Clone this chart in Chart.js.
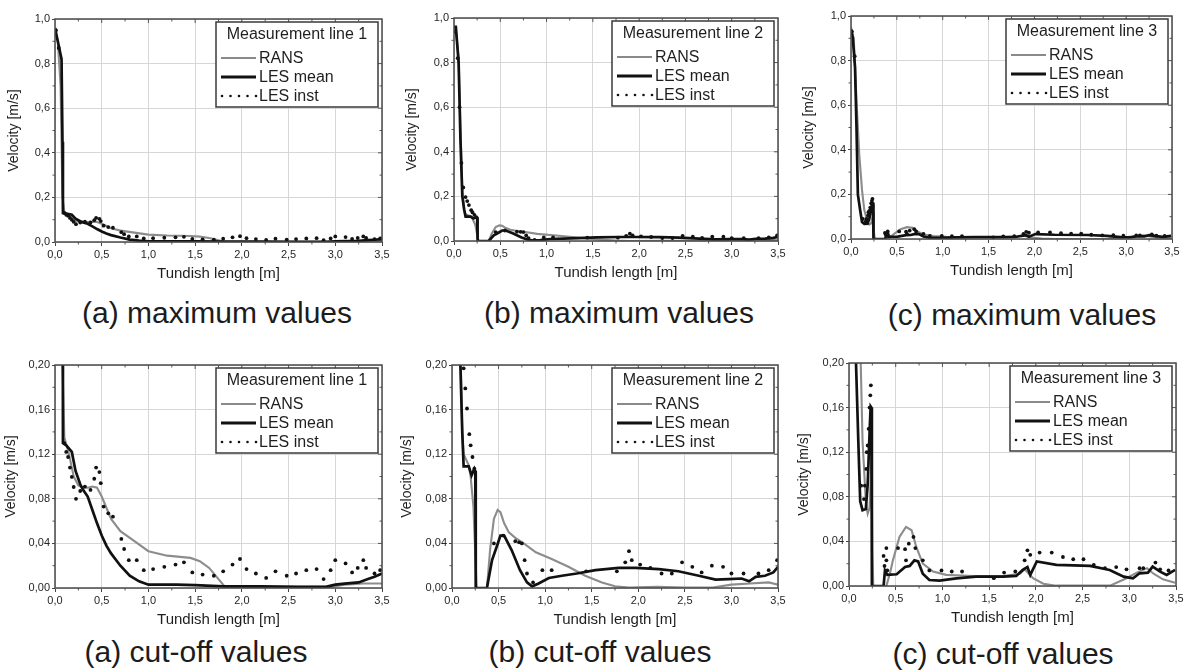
<!DOCTYPE html>
<html><head><meta charset="utf-8">
<script src="https://cdn.jsdelivr.net/npm/chart.js@4.4.1/dist/chart.umd.min.js"></script>
<style>
html,body{margin:0;padding:0;background:#fff;}
body{width:1190px;height:672px;position:relative;overflow:hidden;font-family:'Liberation Sans',Arial,sans-serif;}
canvas{position:absolute;}
.cap{position:absolute;font-size:30px;color:#1c1c1c;white-space:nowrap;transform:translate(-50%,-50%);line-height:1;}
</style></head><body>
<canvas id="c1"></canvas><canvas id="c2"></canvas><canvas id="c3"></canvas>
<canvas id="c4"></canvas><canvas id="c5"></canvas><canvas id="c6"></canvas>
<div class="cap" style="left:217px;top:313px">(a) maximum values</div>
<div class="cap" style="left:619px;top:313px">(b) maximum values</div>
<div class="cap" style="left:1022px;top:315px">(c) maximum values</div>
<div class="cap" style="left:196px;top:652px">(a) cut-off values</div>
<div class="cap" style="left:600px;top:652px">(b) cut-off values</div>
<div class="cap" style="left:1003px;top:654px">(c) cut-off values</div>
<script>
// ---------- data (x in m, velocity in m/s) ----------
const xTicks = [0, 0.5, 1.0, 1.5, 2.0, 2.5, 3.0, 3.5];
const yTicksMax = [0, 0.2, 0.4, 0.6, 0.8, 1.0];
const yTicksCut = [0, 0.04, 0.08, 0.12, 0.16, 0.20];
const seriesNames = ['RANS', 'LES mean', 'LES inst'];
const lineTitles = ['Measurement line 1', 'Measurement line 2', 'Measurement line 3'];

// Measurement line 1
const rans1X = [0,0.03,0.06,0.08,0.1,0.15,0.2,0.25,0.3,0.35,0.4,0.45,0.5,0.55,0.6,0.7,0.85,1.0,1.2,1.45,1.55,1.65,1.75,1.82,2.0,2.5,2.95,3.1,3.3,3.5];
const rans1Y = [0.95,0.9,0.7,0.2,0.135,0.12,0.1,0.092,0.09,0.09,0.091,0.09,0.082,0.072,0.062,0.051,0.042,0.033,0.029,0.027,0.024,0.018,0.008,0.001,0.001,0.001,0.001,0.003,0.004,0.004];
const mean1X = [0,0.03,0.07,0.08,0.085,0.12,0.18,0.22,0.27,0.3,0.35,0.4,0.45,0.5,0.55,0.6,0.7,0.8,0.9,1.0,1.3,1.5,1.8,2.2,2.6,2.9,3.0,3.1,3.25,3.35,3.42,3.5];
const mean1Y = [0.96,0.9,0.82,0.45,0.13,0.128,0.122,0.105,0.093,0.088,0.082,0.07,0.058,0.047,0.038,0.031,0.02,0.011,0.006,0.003,0.003,0.0025,0.0015,0.0015,0.001,0.001,0.003,0.004,0.005,0.008,0.01,0.013];
const inst1X = [0.01,0.04,0.1,0.12,0.14,0.16,0.18,0.2,0.225,0.27,0.32,0.38,0.42,0.44,0.475,0.49,0.52,0.57,0.62,0.71,0.74,0.79,0.875,0.95,1.05,1.17,1.29,1.38,1.47,1.58,1.70,1.80,1.90,1.98,2.05,2.15,2.26,2.36,2.48,2.58,2.69,2.80,2.875,2.95,3.0,3.11,3.18,3.24,3.30,3.33,3.42,3.48];
const inst1Y = [0.95,0.87,0.13,0.122,0.1175,0.108,0.0996,0.0906,0.08,0.087,0.091,0.088,0.098,0.108,0.104,0.094,0.073,0.067,0.064,0.044,0.035,0.025,0.025,0.016,0.017,0.019,0.021,0.023,0.014,0.012,0.011,0.015,0.021,0.026,0.017,0.013,0.009,0.015,0.011,0.013,0.016,0.017,0.008,0.016,0.025,0.022,0.014,0.018,0.025,0.018,0.013,0.016];

// Measurement line 2
const rans2X = [0,0.02,0.05,0.07,0.09,0.11,0.125,0.18,0.2,0.23,0.25,0.265,0.375,0.41,0.45,0.49,0.52,0.56,0.61,0.68,0.77,0.9,1.07,1.25,1.43,1.61,1.75,1.9,2.2,2.5,2.8,3.0,3.2,3.4,3.5];
const rans2Y = [0.96,0.95,0.82,0.5,0.22,0.14,0.12,0.11,0.1,0.073,0.03,0,0,0.035,0.062,0.07,0.068,0.058,0.05,0.045,0.04,0.032,0.026,0.019,0.011,0.005,0.0015,0.0003,0.001,0.0005,0.0005,0.003,0.004,0.005,0.003];
const mean2X = [0,0.02,0.05,0.07,0.09,0.11,0.125,0.18,0.21,0.24,0.25,0.255,0.375,0.43,0.48,0.52,0.56,0.64,0.73,0.805,0.86,0.93,1.04,1.18,1.34,1.54,1.79,1.97,2.22,2.43,2.65,2.83,2.97,3.11,3.19,3.26,3.36,3.45,3.5];
const mean2Y = [0.96,0.96,0.8,0.45,0.2,0.14,0.109,0.109,0.101,0.107,0.105,0,0,0.025,0.037,0.047,0.047,0.034,0.016,0.005,0.0015,0.004,0.009,0.011,0.013,0.016,0.018,0.018,0.017,0.015,0.011,0.0075,0.008,0.0085,0.006,0.01,0.011,0.014,0.019];
const inst2X = [0.01,0.04,0.06,0.08,0.1,0.125,0.143,0.161,0.186,0.2,0.22,0.24,0.45,0.55,0.68,0.72,0.75,0.78,0.805,0.87,0.97,1.07,1.44,1.77,1.86,1.9,1.93,2.02,2.13,2.25,2.36,2.47,2.58,2.68,2.79,2.91,3.0,3.13,3.29,3.4,3.49];
const inst2Y = [0.94,0.82,0.6,0.35,0.24,0.197,0.179,0.161,0.138,0.128,0.1175,0.107,0.04,0.047,0.042,0.041,0.04,0.025,0.013,0.005,0.016,0.016,0.015,0.015,0.023,0.033,0.025,0.021,0.018,0.013,0.013,0.023,0.019,0.014,0.02,0.019,0.013,0.013,0.013,0.016,0.025];

// Measurement line 3
const rans3X = [0,0.03,0.06,0.09,0.12,0.145,0.18,0.2,0.22,0.235,0.24,0.25,0.26,0.4,0.44,0.47,0.54,0.61,0.67,0.72,0.79,0.9,1.04,1.33,1.65,1.83,1.88,1.97,2.08,2.22,2.8,2.97,3.08,3.19,3.26,3.36,3.49];
const rans3Y = [0.95,0.9,0.62,0.38,0.22,0.13,0.076,0.065,0.07,0.1,0.12,0.03,0,0,0.012,0.023,0.044,0.053,0.05,0.035,0.02,0.013,0.01,0.009,0.009,0.011,0.015,0.007,0.002,0.0003,0.0005,0.007,0.012,0.016,0.011,0.006,0.003];
const mean3X = [0,0.02,0.044,0.06,0.075,0.1,0.12,0.145,0.18,0.2,0.223,0.232,0.24,0.245,0.37,0.385,0.41,0.51,0.6,0.65,0.7,0.74,0.79,0.86,0.97,1.15,1.36,1.65,1.79,1.86,1.91,1.94,2.01,2.22,2.58,2.79,2.94,3.04,3.11,3.2,3.25,3.33,3.4,3.49];
const mean3Y = [0.94,0.9,0.77,0.5,0.2,0.129,0.076,0.068,0.069,0.091,0.144,0.161,0.16,0,0,0.014,0.01,0.0105,0.017,0.018,0.023,0.022,0.011,0.0054,0.0048,0.0069,0.0084,0.0084,0.009,0.0144,0.017,0.0099,0.022,0.019,0.018,0.0144,0.0084,0.0069,0.0114,0.012,0.0174,0.0129,0.0099,0.0144];
const inst3X = [0.01,0.04,0.13,0.16,0.17,0.185,0.19,0.2,0.21,0.22,0.228,0.234,0.37,0.38,0.4,0.4,0.41,0.525,0.6,0.61,0.64,0.69,0.71,0.79,0.86,0.99,1.10,1.21,1.55,1.66,1.78,1.88,1.91,1.94,2.04,2.17,2.29,2.4,2.51,2.62,2.74,2.86,2.97,3.11,3.15,3.28,3.33,3.42];
const inst3Y = [0.93,0.82,0.09,0.078,0.09,0.105,0.12,0.126,0.141,0.16,0.171,0.18,0.027,0.018,0.034,0.023,0.014,0.034,0.033,0.023,0.038,0.044,0.034,0.023,0.014,0.014,0.013,0.013,0.007,0.012,0.013,0.023,0.032,0.028,0.03,0.03,0.026,0.024,0.024,0.019,0.016,0.017,0.015,0.016,0.016,0.021,0.015,0.014];

// ---------- helpers ----------
const zip = (xs, ys) => xs.map((x, i) => ({x: x, y: ys[i]}));
const fmt = (v, d) => Number(v).toFixed(d).replace('.', ',');
const FONT = "'Liberation Sans', Arial, sans-serif";

const lines = [
  {r: [rans1X, rans1Y], m: [mean1X, mean1Y], i: [inst1X, inst1Y]},
  {r: [rans2X, rans2Y], m: [mean2X, mean2Y], i: [inst2X, inst2Y]},
  {r: [rans3X, rans3Y], m: [mean3X, mean3Y], i: [inst3X, inst3Y]}
];

const framePlugin = {
  id: 'frameLegend',
  afterDatasetsDraw(chart, args, opts) {
    const {ctx, chartArea: a, scales: {x, y}} = chart;
    ctx.save();
    const seg = (x1, y1, x2, y2) => { ctx.beginPath(); ctx.moveTo(x1, y1); ctx.lineTo(x2, y2); ctx.stroke(); };
    // minor ticks
    ctx.strokeStyle = '#555'; ctx.lineWidth = 1;
    for (let k = 0; k < xTicks.length - 1; k++) {
      const px = x.getPixelForValue((xTicks[k] + xTicks[k + 1]) / 2);
      seg(px, a.bottom, px, a.bottom + 2.5);
      seg(px, a.top, px, a.top + 2.5);
    }
    for (let k = 1; k < xTicks.length - 1; k++) {
      const px = x.getPixelForValue(xTicks[k]);
      seg(px, a.top, px, a.top + 4);
    }
    const yt = opts.yTicks;
    for (let k = 0; k < yt.length - 1; k++) {
      const py = y.getPixelForValue((yt[k] + yt[k + 1]) / 2);
      seg(a.left - 2.5, py, a.left, py);
      seg(a.right - 2.5, py, a.right, py);
    }
    for (let k = 1; k < yt.length - 1; k++) {
      const py = y.getPixelForValue(yt[k]);
      seg(a.right - 4, py, a.right, py);
    }
    // frame
    ctx.strokeStyle = '#4a4a4a'; ctx.lineWidth = 1.5;
    ctx.strokeRect(a.left, a.top, a.right - a.left, a.bottom - a.top);
    // legend box
    const bw = 162, bh = 85;
    const bx = a.right - 4 - bw, by = a.top + 3;
    ctx.fillStyle = '#fff';
    ctx.fillRect(bx, by, bw, bh);
    ctx.strokeStyle = '#3a3a3a'; ctx.lineWidth = 1.5;
    ctx.strokeRect(bx, by, bw, bh);
    ctx.fillStyle = '#1e1e1e';
    ctx.font = '16px ' + FONT;
    ctx.textBaseline = 'middle';
    ctx.textAlign = 'center';
    ctx.fillText(opts.title, bx + bw / 2, by + 13);
    ctx.textAlign = 'left';
    const rows = [by + 36, by + 55, by + 74];
    // RANS
    ctx.strokeStyle = '#8a8a8a'; ctx.lineWidth = 2;
    seg(bx + 5, rows[0], bx + 40, rows[0]);
    // LES mean
    ctx.strokeStyle = '#111'; ctx.lineWidth = 2.8;
    seg(bx + 5, rows[1], bx + 40, rows[1]);
    // LES inst
    ctx.fillStyle = '#111';
    for (let k = 0; k < 5; k++) {
      ctx.beginPath(); ctx.arc(bx + 6 + k * 8.5, rows[2], 1.3, 0, Math.PI * 2); ctx.fill();
    }
    ctx.fillStyle = '#1e1e1e';
    seriesNames.forEach((n, k) => ctx.fillText(n, bx + 43, rows[k] + 1));
    ctx.restore();
  }
};

// panel layout: plot-area rectangles in page pixels
const panels = [
  {id: 'c1', line: 0, L: 55,  T: 19,  R: 382,  B: 242, cut: false, tPad: 7},
  {id: 'c2', line: 1, L: 454, T: 18,  R: 778,  B: 241, cut: false, tPad: 6},
  {id: 'c3', line: 2, L: 851, T: 16,  R: 1172, B: 239, cut: false, tPad: 6},
  {id: 'c4', line: 0, L: 55,  T: 365, R: 382,  B: 588, cut: true,  tPad: 4},
  {id: 'c5', line: 1, L: 452, T: 365, R: 778,  B: 588, cut: true,  tPad: 3},
  {id: 'c6', line: 2, L: 849, T: 363, R: 1176, B: 586, cut: true,  tPad: 3}
];

const YW = 55, XH = 42, PT = 12, PR = 10;

panels.forEach(p => {
  const cv = document.getElementById(p.id);
  const left = p.L - YW, top = p.T - PT;
  const w = p.R + PR - left, h = p.B + XH - top;
  cv.width = w; cv.height = h;
  cv.style.left = left + 'px'; cv.style.top = top + 'px';
  cv.style.width = w + 'px'; cv.style.height = h + 'px';
  const d = lines[p.line];
  const yt = p.cut ? yTicksCut : yTicksMax;
  const dec = p.cut ? 2 : 1;
  new Chart(cv.getContext('2d'), {
    type: 'line',
    data: {
      datasets: [
        {label: seriesNames[2], data: zip(d.i[0], d.i[1]), showLine: false, pointRadius: 1.9, pointHoverRadius: 0,
         pointBackgroundColor: '#111', pointBorderWidth: 0, borderColor: '#111', order: 0},
        {label: seriesNames[1], data: zip(d.m[0], d.m[1]), borderColor: '#111', borderWidth: 2.7, pointRadius: 0, tension: 0, order: 1},
        {label: seriesNames[0], data: zip(d.r[0], d.r[1]), borderColor: '#8c8c8c', borderWidth: 2.1, pointRadius: 0, tension: 0, order: 2}
      ]
    },
    options: {
      animation: false, responsive: false, devicePixelRatio: 1,
      events: [],
      layout: {padding: {top: PT, right: PR, left: 0, bottom: 0}},
      plugins: {
        legend: {display: false}, tooltip: {enabled: false},
        frameLegend: {title: lineTitles[p.line], yTicks: yt}
      },
      scales: {
        x: {
          type: 'linear', min: xTicks[0], max: xTicks[xTicks.length - 1],
          afterFit: s => { s.height = XH; },
          afterBuildTicks: s => { s.ticks = xTicks.map(v => ({value: v})); },
          ticks: {callback: v => fmt(v, 1), font: {size: 11, family: FONT}, color: '#262626', padding: 2, maxRotation: 0, autoSkip: false},
          grid: {color: '#d6d6d6', tickColor: '#444', tickLength: 4, lineWidth: 1},
          border: {display: false},
          title: {display: true, text: 'Tundish length [m]', font: {size: 15, family: FONT}, color: '#1e1e1e', padding: {top: 0, bottom: 1.5}}
        },
        y: {
          type: 'linear', min: yt[0], max: yt[yt.length - 1],
          afterFit: s => { s.width = YW; },
          afterBuildTicks: s => { s.ticks = yt.map(v => ({value: v})); },
          ticks: {callback: v => fmt(v, dec), font: {size: 11, family: FONT}, color: '#262626', padding: 2, autoSkip: false},
          grid: {color: '#d6d6d6', tickColor: '#444', tickLength: 3, lineWidth: 1},
          border: {display: false},
          title: {display: true, text: 'Velocity [m/s]', font: {size: 14, family: FONT}, color: '#1e1e1e', padding: {top: p.tPad - 1, bottom: 0}}
        }
      }
    },
    plugins: [framePlugin]
  });
});
</script>
</body></html>
